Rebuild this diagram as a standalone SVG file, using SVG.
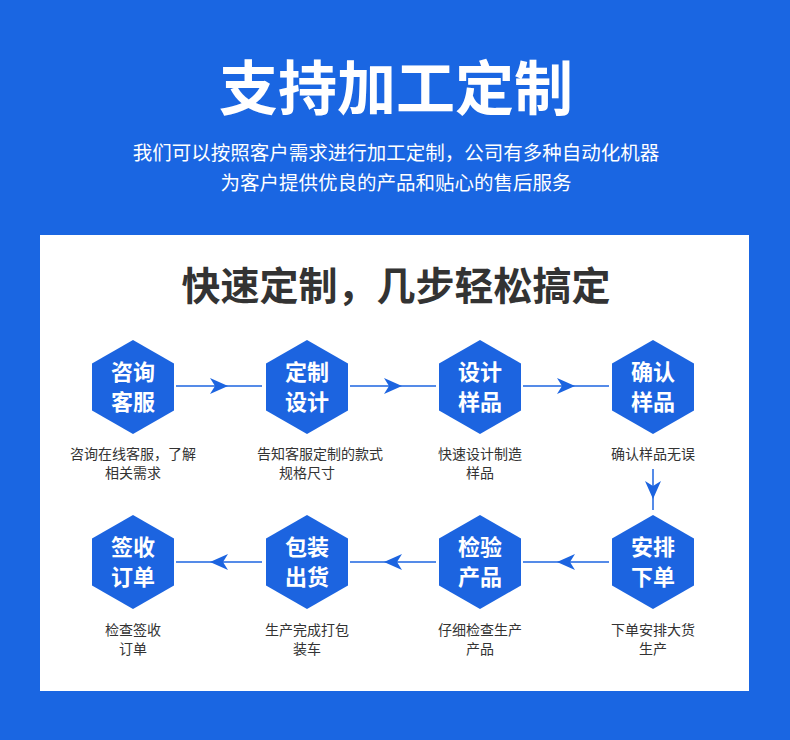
<svg xmlns="http://www.w3.org/2000/svg" width="790" height="740" viewBox="0 0 790 740">
<style>
text{font-family:"Noto Sans CJK SC","Noto Sans",sans-serif;text-anchor:middle}
.h{fill:#1c64e0}
.ht{fill:#fff;font-size:22px;font-weight:bold}
.d{fill:#333;font-size:14px}
.c{stroke:#1c64e0;stroke-width:1.5;fill:none}
.a{fill:#1c64e0}
</style>
<defs>
<polygon id="hex" points="0,-47 41,-23.5 41,23.5 0,47 -41,23.5 -41,-23.5"/>
<path id="ar" d="M9,0 L-9,-8 L-4,0 L-9,8 Z"/>
</defs>
<rect width="790" height="740" fill="#1a66e2"/>
<text x="396" y="110" fill="#fff" font-size="59" font-weight="bold">支持加工定制</text>
<text x="396" y="160" fill="#fff" font-size="19.5">我们可以按照客户需求进行加工定制，公司有多种自动化机器</text>
<text x="396" y="190" fill="#fff" font-size="19.5">为客户提供优良的产品和贴心的售后服务</text>
<rect x="40" y="235" width="709" height="456" fill="#fff"/>
<text x="396" y="300" fill="#333" font-size="39" font-weight="bold">快速定制，几步轻松搞定</text>
<g id="connectors">
<line class="c" x1="176" y1="386" x2="262" y2="386"/><use href="#ar" class="a" x="219" y="386"/>
<line class="c" x1="350" y1="386" x2="436" y2="386"/><use href="#ar" class="a" x="393" y="386"/>
<line class="c" x1="523" y1="386" x2="609" y2="386"/><use href="#ar" class="a" x="566" y="386"/>
<line class="c" x1="653" y1="469" x2="653" y2="510"/><use href="#ar" class="a" transform="translate(653,490) rotate(90)"/>
<line class="c" x1="609" y1="562" x2="523" y2="562"/><use href="#ar" class="a" transform="translate(566,562) rotate(180)"/>
<line class="c" x1="436" y1="562" x2="350" y2="562"/><use href="#ar" class="a" transform="translate(393,562) rotate(180)"/>
<line class="c" x1="262" y1="562" x2="176" y2="562"/><use href="#ar" class="a" transform="translate(219,562) rotate(180)"/>
</g>
<g id="n1"><use href="#hex" class="h" x="133" y="387"/><text class="ht" x="133" y="380">咨询</text><text class="ht" x="133" y="410">客服</text><text class="d" x="133" y="459">咨询在线客服，了解</text><text class="d" x="133" y="478">相关需求</text></g>
<g id="n2"><use href="#hex" class="h" x="307" y="387"/><text class="ht" x="307" y="380">定制</text><text class="ht" x="307" y="410">设计</text><text class="d" x="320" y="459">告知客服定制的款式</text><text class="d" x="307" y="478">规格尺寸</text></g>
<g id="n3"><use href="#hex" class="h" x="480" y="387"/><text class="ht" x="480" y="380">设计</text><text class="ht" x="480" y="410">样品</text><text class="d" x="480" y="459">快速设计制造</text><text class="d" x="480" y="478">样品</text></g>
<g id="n4"><use href="#hex" class="h" x="653" y="387"/><text class="ht" x="653" y="380">确认</text><text class="ht" x="653" y="410">样品</text><text class="d" x="653" y="459">确认样品无误</text></g>
<g id="n5"><use href="#hex" class="h" x="653" y="562"/><text class="ht" x="653" y="555">安排</text><text class="ht" x="653" y="585">下单</text><text class="d" x="653" y="635">下单安排大货</text><text class="d" x="653" y="654">生产</text></g>
<g id="n6"><use href="#hex" class="h" x="480" y="562"/><text class="ht" x="480" y="555">检验</text><text class="ht" x="480" y="585">产品</text><text class="d" x="480" y="635">仔细检查生产</text><text class="d" x="480" y="654">产品</text></g>
<g id="n7"><use href="#hex" class="h" x="307" y="562"/><text class="ht" x="307" y="555">包装</text><text class="ht" x="307" y="585">出货</text><text class="d" x="307" y="635">生产完成打包</text><text class="d" x="307" y="654">装车</text></g>
<g id="n8"><use href="#hex" class="h" x="133" y="562"/><text class="ht" x="133" y="555">签收</text><text class="ht" x="133" y="585">订单</text><text class="d" x="133" y="635">检查签收</text><text class="d" x="133" y="654">订单</text></g>
</svg>
